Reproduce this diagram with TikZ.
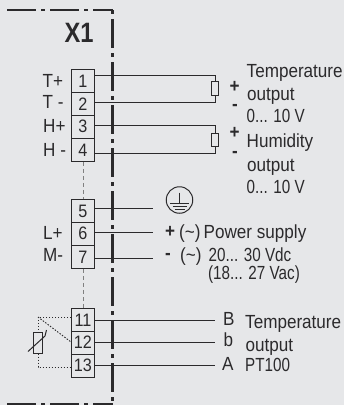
\documentclass[tikz,border=0pt]{standalone}
\usepackage{fontspec}
\setmainfont[FakeStretch=0.9]{Liberation Sans}
\usetikzlibrary{shapes}
\definecolor{panel}{HTML}{E6E7E9}
\definecolor{ink}{HTML}{2B2A2C}
\tikzset{
  terminal/.style={draw=ink, line width=0.9pt, minimum width=23pt, inner sep=0pt, font=\fontsize{18}{18}\selectfont, text=ink},
  label/.style={anchor=base west, inner sep=0pt, font=\fontsize{19}{19}\selectfont, text=ink},
  numeric/.style={label, xscale=0.89},
  wire/.style={draw=ink, line width=0.9pt},
  housing/.style={draw=ink, line width=2.6pt, dash pattern=on 29pt off 5pt on 4pt off 5pt},
  jumper/.style={draw=gray, line width=1pt, dash pattern=on 4pt off 3pt},
  sense/.style={draw=ink, line width=0.9pt, dash pattern=on 1.5pt off 1.5pt},
  load/.style={draw=ink, line width=1pt, fill=panel, minimum width=6.5pt, inner sep=0pt},
  sign/.style={inner sep=0pt, font=\fontsize{19}{19}\bfseries\selectfont, text=ink},
}
\begin{document}
\begin{tikzpicture}[x=1pt,y=-1pt]
\fill[panel] (0,0) rectangle (344,405);
\useasboundingbox (0,0) rectangle (344,405);

% housing
\coordinate (topleft) at (7,10);
\coordinate (corner) at (112.5,10);
\coordinate (bottom) at (112.5,405);
\coordinate (botleft) at (7,404);
\coordinate (botright) at (112.5,404);
\draw[housing] (topleft) -- (corner);
\draw[housing, dash phase=34pt] (corner) -- (bottom);
\draw[housing] (botleft) -- (botright);

\node[anchor=base west, inner sep=0pt, text=ink, font=\fontsize{28}{28}\bfseries\selectfont, xscale=0.94] (title) at (64.5,42.5) {X1};

% terminals
\node[terminal, minimum height=23pt] (t1) at (83,81) {1};
\node[terminal, minimum height=23pt] (t2) at (83,104) {2};
\node[terminal, minimum height=23pt] (t3) at (83,126.5) {3};
\node[terminal, minimum height=23pt] (t4) at (83,150) {4};
\node[terminal, minimum height=22.5pt] (t5) at (83,211) {5};
\node[terminal, minimum height=23pt] (t6) at (83,233.5) {6};
\node[terminal, minimum height=23pt] (t7) at (83,257) {7};
\node[terminal, minimum height=22.5pt] (t11) at (83,320) {11};
\node[terminal, minimum height=23pt] (t12) at (83,342.5) {12};
\node[terminal, minimum height=23pt] (t13) at (83,365.5) {13};

\draw[jumper] (t4.south) -- (t5.north);
\draw[jumper] (t7.south) -- (t11.north);

% wire ends
\coordinate (w1) at (215,75);
\coordinate (w2) at (215,102.5);
\coordinate (w3) at (215,125);
\coordinate (w4) at (215,153.5);
\coordinate (w5) at (153,208);
\coordinate (w6) at (153,232);
\coordinate (w7) at (153,258);
\coordinate (w11) at (215,320);
\coordinate (w12) at (215,342);
\coordinate (w13) at (215,365.5);

\foreach \n in {1,2,3,4,5,6,7,11,12,13}
  \draw[wire] (t\n.east |- w\n) -- (w\n);

% outputs
\node[load, minimum height=14pt] (r1) at (215,88.7) {};
\node[load, minimum height=13pt] (r2) at (215,139.5) {};
\draw[wire] (w1) -- (r1.north);
\draw[wire] (r1.south) -- (w2);
\draw[wire] (w3) -- (r2.north);
\draw[wire] (r2.south) -- (w4);

\node[sign] (p1) at (234.5,86.5) {+};
\node[sign] (m1) at (235,107) {-};
\node[sign] (p2) at (234.5,132.5) {+};
\node[sign] (m2) at (235,154) {-};
\node[sign] (p3) at (170,232) {+};
\node[sign] (m3) at (168,256) {-};

% earth
\node[circle, draw=ink, line width=1pt, minimum size=26.5pt, inner sep=0pt] (earth) at (179.5,200) {};
\coordinate (e0) at (179.5,192.5);
\coordinate (e1) at (179.5,203);
\coordinate (e2) at (179.5,206);
\coordinate (e3) at (179.5,209.5);
\draw[wire] (e0) -- (e1);
\draw[wire] ([xshift=-9.5pt]e1) -- ([xshift=9.5pt]e1);
\draw[wire] ([xshift=-7pt]e2) -- ([xshift=7pt]e2);
\draw[wire] ([xshift=-5pt]e3) -- ([xshift=5pt]e3);

% sensor
\coordinate (s1) at (38,317);
\coordinate (s2) at (38,367);
\node[draw=ink, line width=1pt, minimum width=8.5pt, minimum height=21pt, inner sep=0pt] (pt) at (38,342.5) {};
\coordinate (slash1) at (28,351.5);
\coordinate (slash2) at (45,336);
\coordinate (slash3) at (46.5,330);
\draw[sense] (t11.west |- s1) -- (s1) -- (pt.north);
\draw[sense] (s1) -- (t12.west |- 0,342);
\draw[sense] (pt.south) -- (s2) -- (t13.west |- s2);
\draw[draw=ink, line width=1pt] (slash1) -- (slash2) -- (slash3);

% left labels
\node[label] (lt1) at (42.5,87) {T+};
\node[label] (lt2) at (42.5,108.5) {T -};
\node[label] (lt3) at (43,132.5) {H+};
\node[label] (lt4) at (43,156) {H -};
\node[label] (lt6) at (43,239) {L+};
\node[label] (lt7) at (43,261.5) {M-};

% right labels
\node[label] (o1) at (246.5,77.5) {Temperature};
\node[label] (o2) at (247,100) {output};
\node[numeric] (o3) at (246.5,122.5) {0... 10 V};
\node[label] (o4) at (246.5,147) {Humidity};
\node[label] (o5) at (247,171.5) {output};
\node[numeric] (o6) at (246.5,193.5) {0... 10 V};
\node[label] (s3) at (179,238) {(\char"007E)};
\node[label] (s4) at (203.5,238) {Power supply};
\node[label] (s5) at (180,261) {(\char"007E)};
\node[numeric] (s6) at (208.5,261) {20... 30 Vdc};
\node[numeric] (s7) at (208,279) {(18... 27 Vac)};
\node[label] (bb) at (223,325.5) {B};
\node[label] (b) at (223.5,346.5) {b};
\node[label] (aa) at (222,370) {A};
\node[label] (o7) at (245,328) {Temperature};
\node[label] (o8) at (245.5,351.5) {output};
\node[numeric] (o9) at (245,371) {PT100};

\end{tikzpicture}
\end{document}
